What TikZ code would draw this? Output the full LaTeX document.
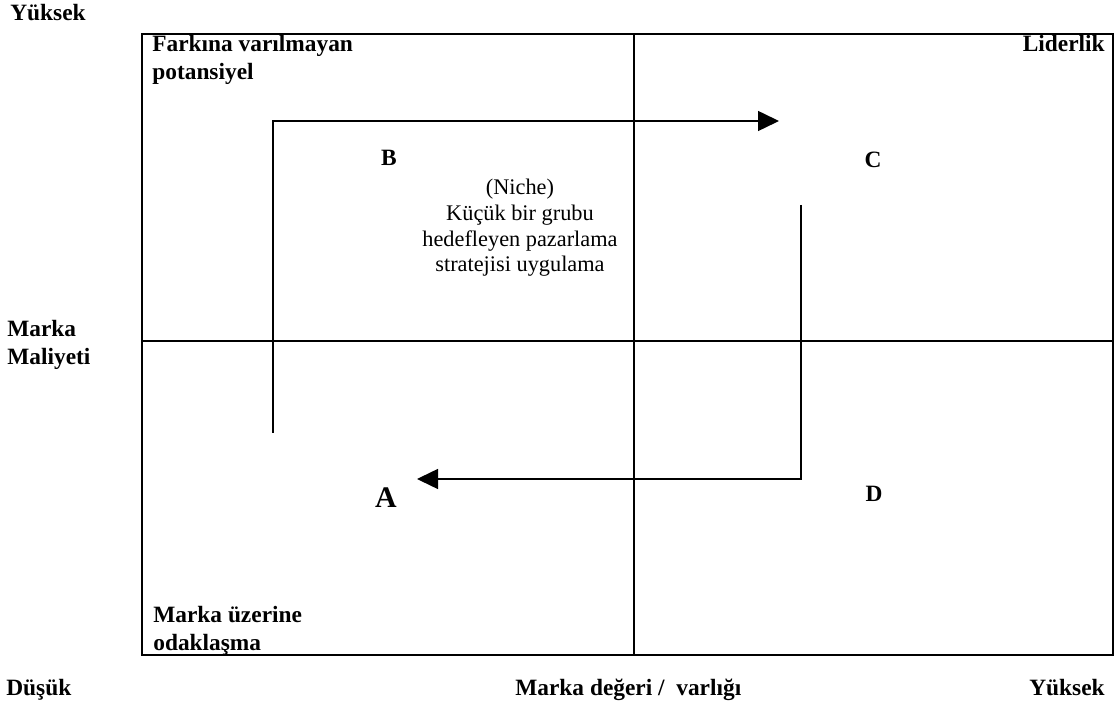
\documentclass[tikz,border=0pt]{standalone}
\usepackage{fontspec}
\setmainfont{Liberation Serif}
\usetikzlibrary{arrows.meta, positioning}

\begin{document}
\begin{tikzpicture}[frame/.style={line width=1.1pt}, arr/.style={line width=0.85pt, -{Triangle[length=0.42cm, width=0.40cm]}},
  lbl/.style={font=\fontsize{13.3}{16}\selectfont\bfseries, inner sep=0pt, align=left},
  niche/.style={font=\fontsize{12.7}{14.6}\selectfont, inner sep=0pt, align=center}]
\useasboundingbox (0,0) rectangle (22.34,14.08);
%matrix frame
\coordinate (sw) at (2.84,0.98);
\coordinate (ne) at (22.26,13.40);
\coordinate (mid) at (12.68,7.26);
\draw[frame] (sw) rectangle (ne);
\draw[frame] (sw |- mid) -- (ne |- mid);
\draw[frame] (mid |- sw) -- (mid |- ne);
%axis labels
\node[lbl, anchor=base west] (yhigh) at (0.20,13.66) {Yüksek};
\node[lbl, anchor=north west] (cost) at (0.14,7.68) {Marka\\Maliyeti};
\node[lbl, anchor=base west] (xlow) at (0.12,0.18) {Düşük};
\node[lbl, anchor=base west] (value) at (10.30,0.18) {Marka değeri /\ \ varlığı};
\node[lbl, anchor=base east] (xhigh) at (22.10,0.18) {Yüksek};
%quadrant labels
\node[lbl, anchor=north west] (pot) at (3.04,13.38) {Farkına varılmayan\\potansiyel};
\node[lbl, anchor=north east] (lead) at (22.10,13.38) {Liderlik};
\node[lbl, anchor=north west] (focus) at (3.06,1.96) {Marka üzerine\\odaklaşma};
\node[lbl] (b) at (7.78,10.92) {B};
\node[lbl] (c) at (17.46,10.88) {C};
\node[lbl] (d) at (17.48,4.20) {D};
\node[lbl, font=\fontsize{17}{20}\selectfont\bfseries] (a) at (7.72,4.12) {A};
\node[niche] (nichetxt) at (10.40,9.52) {(Niche)\\Küçük bir grubu\\hedefleyen pazarlama\\stratejisi uygulama};
%arrows
\coordinate (p1) at (5.46,5.42);
\coordinate (p2) at (15.58,11.66);
\coordinate (p3) at (16.02,9.98);
\coordinate (p4) at (8.34,4.50);
\draw[arr] (p1) |- (p2);
\draw[arr] (p3) |- (p4);
\end{tikzpicture}
\end{document}
